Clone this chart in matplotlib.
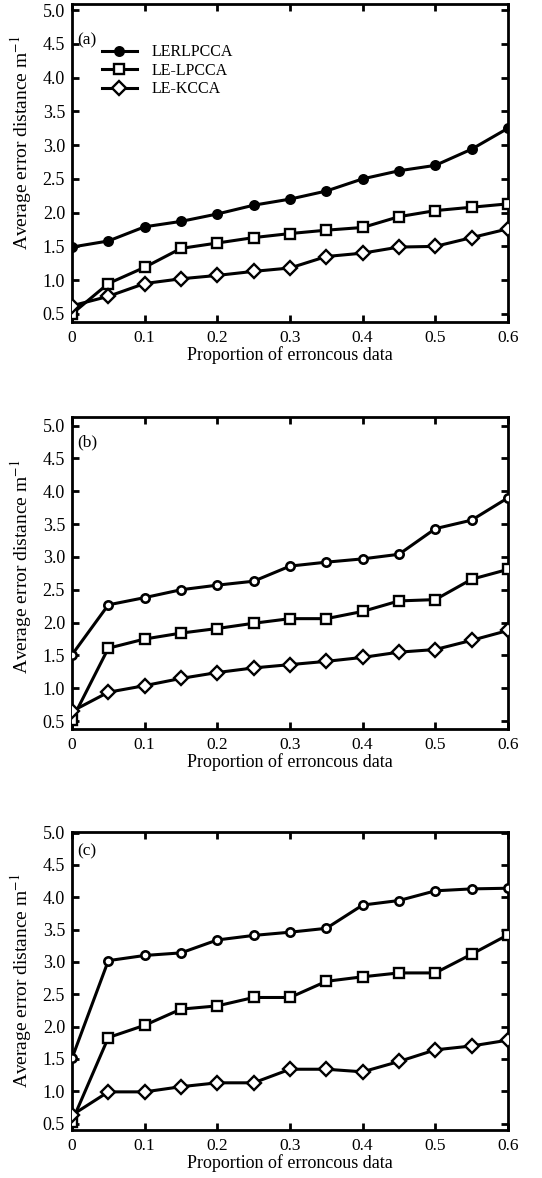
import matplotlib
matplotlib.use("Agg")
import matplotlib.pyplot as plt

plt.rcParams['font.family'] = ['Liberation Serif', 'DejaVu Serif']
plt.rcParams['mathtext.fontset'] = 'stix'

# Proportion of erroneous data
proportion = [0.0, 0.05, 0.10, 0.15, 0.20, 0.25, 0.30, 0.35, 0.40, 0.45, 0.50, 0.55, 0.60]

series_names = ["LERLPCCA", "LE-LPCCA", "LE-KCCA"]

# Panel (a)
a_lerlpcca = [1.49, 1.58, 1.79, 1.87, 1.98, 2.11, 2.20, 2.32, 2.50, 2.62, 2.70, 2.94, 3.25]
a_lelpcca  = [0.50, 0.95, 1.19, 1.47, 1.55, 1.63, 1.69, 1.74, 1.78, 1.94, 2.03, 2.08, 2.13]
a_lekcca   = [0.62, 0.76, 0.95, 1.02, 1.07, 1.13, 1.18, 1.35, 1.40, 1.49, 1.50, 1.63, 1.76]

# Panel (b)
b_lerlpcca = [1.51, 2.27, 2.38, 2.50, 2.57, 2.63, 2.86, 2.92, 2.97, 3.04, 3.43, 3.56, 3.90]
b_lelpcca  = [0.52, 1.61, 1.75, 1.84, 1.91, 1.99, 2.06, 2.06, 2.17, 2.33, 2.35, 2.66, 2.81]
b_lekcca   = [0.65, 0.94, 1.04, 1.15, 1.24, 1.31, 1.36, 1.41, 1.47, 1.55, 1.59, 1.73, 1.88]

# Panel (c)
c_lerlpcca = [1.51, 3.02, 3.10, 3.14, 3.34, 3.41, 3.46, 3.52, 3.88, 3.95, 4.10, 4.13, 4.14]
c_lelpcca  = [0.53, 1.83, 2.02, 2.27, 2.32, 2.45, 2.45, 2.70, 2.77, 2.83, 2.83, 3.12, 3.42]
c_lekcca   = [0.63, 0.99, 0.99, 1.07, 1.13, 1.13, 1.34, 1.34, 1.30, 1.46, 1.64, 1.70, 1.79]

panel_tags = ["(a)", "(b)", "(c)"]
x_ticks = [0.0, 0.1, 0.2, 0.3, 0.4, 0.5, 0.6]
x_tick_labels = ["0", "0.1", "0.2", "0.3", "0.4", "0.5", "0.6"]
y_ticks = [0.5, 1.0, 1.5, 2.0, 2.5, 3.0, 3.5, 4.0, 4.5, 5.0]
y_tick_labels = ["0.5", "1.0", "1.5", "2.0", "2.5", "3.0", "3.5", "4.0", "4.5", "5.0"]

panels = [
    (a_lerlpcca, a_lelpcca, a_lekcca),
    (b_lerlpcca, b_lelpcca, b_lekcca),
    (c_lerlpcca, c_lelpcca, c_lekcca),
]

W, H = 542, 1178
fig = plt.figure(figsize=(W / 100, H / 100), dpi=100)

# axes boxes in pixel coordinates: (left, top, right, bottom)
boxes = [(72, 4, 508, 322), (72, 417, 508, 729), (72, 832, 508, 1130)]
ylims = [(0.38, 5.09), (0.38, 5.13), (0.40, 5.01)]
tag_y = [0.887, 0.92, 0.935]
ylabel_y = [0.563, 0.52, 0.5]

for i, (vals, box, yl) in enumerate(zip(panels, boxes, ylims)):
    l, t, r, b = box
    ax = fig.add_axes([l / W, 1 - b / H, (r - l) / W, (b - t) / H])
    circ_face = 'black' if i == 0 else 'white'
    ax.plot(proportion, vals[0], color='black', lw=2.2, marker='o', ms=6,
            mfc=circ_face, mec='black', mew=1.9, label=series_names[0], zorder=3)
    ax.plot(proportion, vals[1], color='black', lw=2.2, marker='s', ms=7.5,
            mfc='white', mec='black', mew=1.7, label=series_names[1], zorder=3)
    ax.plot(proportion, vals[2], color='black', lw=2.2, marker='D', ms=7,
            mfc='white', mec='black', mew=1.7, label=series_names[2], zorder=3)

    ax.set_xlim(0, 0.6)
    ax.set_ylim(*yl)
    ax.set_xticks(x_ticks)
    ax.set_xticklabels(x_tick_labels)
    ax.set_yticks(y_ticks)
    ax.set_yticklabels(y_tick_labels)
    ax.tick_params(direction='in', top=True, right=True, length=5, width=2,
                   labelsize=13, pad=5)
    ax.tick_params(axis='x', pad=6, labelsize=12.5)
    for sp in ax.spines.values():
        sp.set_linewidth(2)
    ax.set_xlabel("Proportion of erroncous data", fontsize=13, labelpad=0)
    ax.set_ylabel("Average error distance m$^{-1}$", fontsize=14)
    ax.yaxis.set_label_coords(-0.088, ylabel_y[i])
    ax.text(0.012, tag_y[i], panel_tags[i], transform=ax.transAxes, fontsize=12.5,
            ha='left', va='center')
    if i == 0:
        ax.legend(loc='upper left', bbox_to_anchor=(0.05, 0.898), frameon=False,
                  fontsize=11.5, handlelength=2.2, handletextpad=0.9,
                  labelspacing=0.15, borderpad=0)

fig.savefig("out.png", dpi=100)
